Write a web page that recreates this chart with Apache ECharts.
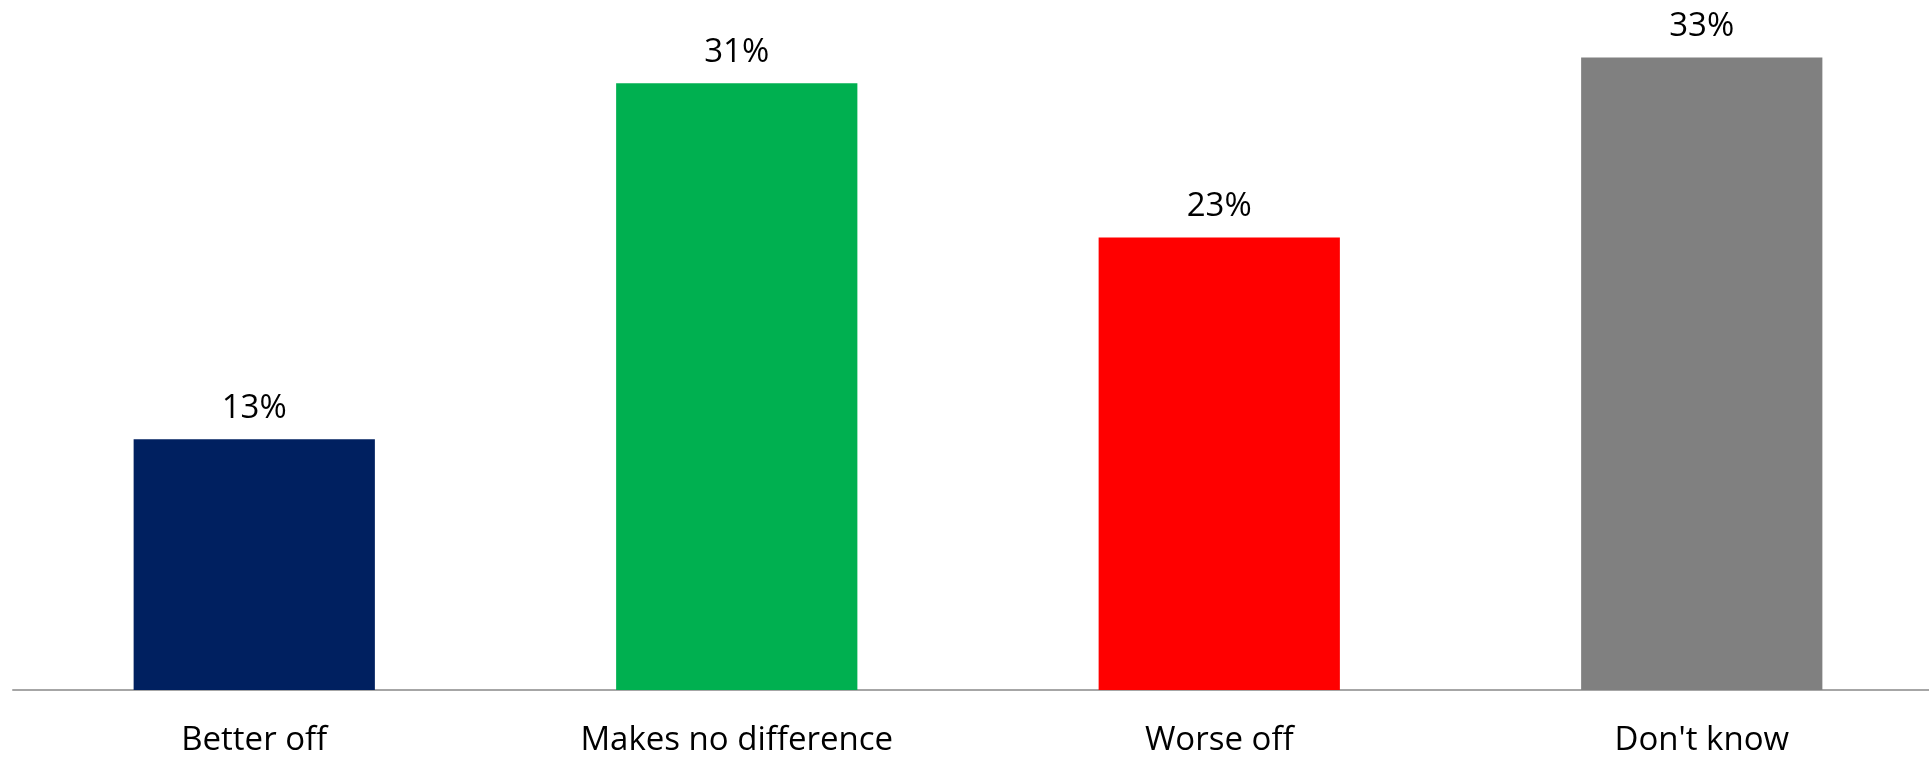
<!DOCTYPE html>
<html><head><meta charset="utf-8">
<script src="https://cdn.jsdelivr.net/npm/echarts@6/dist/echarts.min.js"></script>
<style>html,body{margin:0;padding:0;background:#fff;overflow:hidden;width:1929px;height:757px}#c{width:1943px;height:757px}</style>
</head><body><div id="c"></div>
<script>
const categories = ["Better off", "Makes no difference", "Worse off", "Don't know"];
const values = [12.94, 31.3, 23.35, 32.63];
const colors = ["#002060", "#00B050", "#FF0000", "#808080"];
const FONT = "Open Sans";
const chart = echarts.init(document.getElementById('c'));
chart.setOption({
  animation: false,
  grid: {left: 13, right: 0, top: 0, bottom: 66, containLabel: false},
  xAxis: {
    type: 'category', data: categories,
    axisLine: {lineStyle: {color: '#A6A6A6', width: 2}},
    axisTick: {show: false},
    axisLabel: {color: '#000', fontFamily: FONT, fontSize: 33, margin: 34, lineHeight: 33}
  },
  yAxis: {type: 'value', min: 0, max: 35.6, show: false, splitLine: {show: false}},
  series: [{
    type: 'bar', barWidth: '50%',
    data: values.map((v, i) => ({value: v, itemStyle: {color: colors[i]}})),
    label: {show: true, position: 'top', distance: 14, color: '#000', fontFamily: FONT, fontSize: 33, lineHeight: 33,
      formatter: p => Math.round(p.value) + '%'}
  }]
});
</script></body></html>
